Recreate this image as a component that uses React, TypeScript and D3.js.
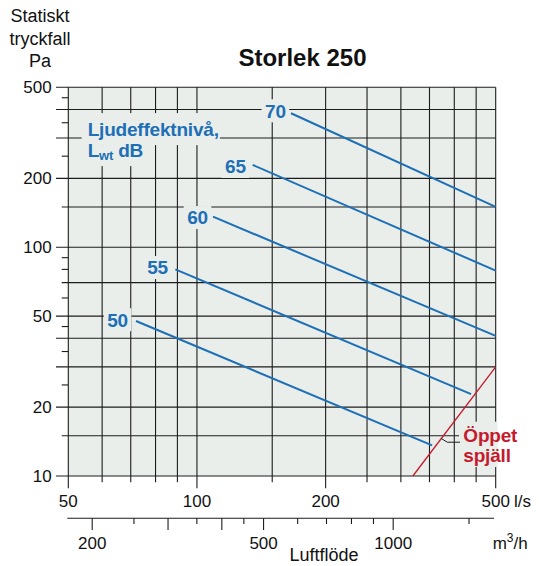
import * as d3 from "d3";

const FONT = '"Liberation Sans", Arial, Helvetica, sans-serif';
const BLUE = "#1d6fb6";
const RED = "#c41a2c";
const PLOT_BG = "#e9eeeb";
const GRID = "#1c1c1c";

// Luftflöde, l/s
const flowGrid = [50, 60, 70, 80, 90, 100, 150, 200, 250, 300, 350, 400, 450, 500];
const flowLabels = [50, 100, 200, 500];
// Luftflöde, m3/h
const m3hTicks = [200, 250, 300, 350, 400, 450, 500, 600, 700, 800, 900, 1000, 1500];
const m3hLong = [200, 300, 400, 500, 1000];
const m3hLabels = [200, 500, 1000];
// Statiskt tryckfall, Pa
const pGrid = [10, 15, 20, 30, 40, 50, 70, 100, 150, 200, 300, 400, 500];
const pShortOuter = [15, 70, 150];
const pMinor = [25, 35, 45, 60, 80, 90, 250, 350, 450];
const pLabels = [10, 20, 50, 100, 200, 500];

// Ljudeffektnivå lines (dB)
const dbLevels = ["50", "55", "60", "65", "70"];
const flowStart = [72, 89, 109, 135, 166];
const flowEnd = [355, 438, 500, 500, 500];
const pStart = [47.6, 80, 136, 229, 385];
const pEnd = [13.6, 22.8, 41, 79, 150];
const labelFlow = [65.2, 80.9, 100.3, 123, 152.6];
const labelP = [48.2, 81.5, 134.8, 225.3, 394.6];

// Öppet spjäll
const damperFlow = [320, 500];
const damperP = [10, 30];

export default function App() {
  const width = 539;
  const height = 566;
  const left = 68.3;
  const right = 495.7;
  const top = 87.3;
  const bottom = 476;

  const x = d3.scaleLog().domain([50, 500]).range([left, right]);
  const xm = d3.scaleLog().domain([176, 1730]).range([left, right]);
  const y = d3.scaleLog().domain([10, 500]).range([bottom, top]);

  const line = d3
    .line<[number, number]>()
    .x((d) => x(d[0]))
    .y((d) => y(d[1]));

  // red line: point for the leader
  const damperAt = (f: number) => {
    const t = Math.log(f / damperFlow[0]) / Math.log(damperFlow[1] / damperFlow[0]);
    return damperP[0] * Math.pow(damperP[1] / damperP[0], t);
  };
  const leadFlow = 373;
  const lx = x(leadFlow);
  const ly = y(damperAt(leadFlow));

  const legX = x(55.5);
  const legY = y(305);
  const opX = x(420);
  const opY = y(14.12);

  return (
    <svg
      width={width}
      height={height}
      style={{ position: "absolute", left: 0, top: 0, background: "#fff" }}
      fontFamily={FONT}
    >
      {/* title */}
      <text x={302.5} y={66} textAnchor="middle" fontSize={24} fontWeight="bold" fill="#111">
        Storlek 250
      </text>
      <g fontSize={18} fill="#111" textAnchor="middle">
        <text x={40} y={21.7}>Statiskt</text>
        <text x={40} y={44.5}>tryckfall</text>
        <text x={40} y={66.5}>Pa</text>
      </g>

      {/* plot background */}
      <rect x={left} y={top} width={right - left} height={bottom - top} fill={PLOT_BG} />

      {/* horizontal grid + y ticks */}
      {pGrid.map((p) => (
        <line
          key={"h" + p}
          x1={pShortOuter.includes(p) ? left - 6.6 : left - 12.3}
          x2={right}
          y1={y(p)}
          y2={y(p)}
          stroke={GRID}
          strokeWidth={1.1}
        />
      ))}
      {pMinor.map((p) => (
        <line key={"m" + p} x1={left - 6.6} x2={left} y1={y(p)} y2={y(p)} stroke={GRID} strokeWidth={1.1} />
      ))}
      {pLabels.map((p) => (
        <text key={"yl" + p} x={51.7} y={y(p) + 6} textAnchor="end" fontSize={17} fill="#111">
          {p}
        </text>
      ))}

      {/* vertical grid + x ticks */}
      {flowGrid.map((f) => (
        <line
          key={"v" + f}
          x1={x(f)}
          x2={x(f)}
          y1={top}
          y2={flowLabels.includes(f) ? bottom + 12.3 : bottom + 6.3}
          stroke={GRID}
          strokeWidth={1.1}
        />
      ))}
      {flowLabels.map((f) => (
        <text key={"xl" + f} x={x(f)} y={506.7} textAnchor="middle" fontSize={17} fill="#111">
          {f}
        </text>
      ))}
      <text x={514} y={506.7} fontSize={17} fill="#111">l/s</text>

      {/* m3/h axis */}
      <line x1={67.3} x2={494} y1={518.3} y2={518.3} stroke={GRID} strokeWidth={1.1} />
      {m3hTicks.map((v) => (
        <line
          key={"t" + v}
          x1={xm(v)}
          x2={xm(v)}
          y1={518.3}
          y2={m3hLong.includes(v) ? 530 : 524}
          stroke={GRID}
          strokeWidth={1.1}
        />
      ))}
      {m3hLabels.map((v) => (
        <text key={"ml" + v} x={xm(v)} y={549} textAnchor="middle" fontSize={17} fill="#111">
          {v}
        </text>
      ))}
      <text x={492.7} y={549} fontSize={17} fill="#111">
        m<tspan fontSize={12} dy={-7}>3</tspan>
        <tspan dy={7}>/h</tspan>
      </text>
      <text x={324} y={560.7} textAnchor="middle" fontSize={18} fill="#111">
        Luftflöde
      </text>

      {/* label backgrounds */}
      <g fill={PLOT_BG}>
        <rect x={legX - 6} y={legY - 23.3} width={138.3} height={32} />
        <rect x={legX - 6} y={legY + 8.7} width={61.3} height={21} />
        {dbLevels.map((d, i) => (
          <rect key={"lb" + d} x={x(labelFlow[i]) - 13.8} y={y(labelP[i]) - 11.5} width={27.6} height={23} />
        ))}
        <rect x={opX - 4.3} y={opY - 20} width={38.5} height={45.3} />
      </g>

      {/* dB lines */}
      {dbLevels.map((d, i) => (
        <path
          key={"l" + d}
          d={line([
            [flowStart[i], pStart[i]],
            [flowEnd[i], pEnd[i]],
          ]) ?? ""}
          fill="none"
          stroke={BLUE}
          strokeWidth={2}
        />
      ))}

      {/* open damper line */}
      <path
        d={line([
          [damperFlow[0], damperP[0]],
          [damperFlow[1], damperP[1]],
        ]) ?? ""}
        fill="none"
        stroke={RED}
        strokeWidth={1.3}
      />
      <polyline
        points={`${lx},${ly} ${lx + 6},${ly + 3.7} ${opX - 3.3},${ly + 3.7}`}
        fill="none"
        stroke={GRID}
        strokeWidth={1}
      />

      {/* labels */}
      <g fontSize={19} fontWeight="bold" fill={BLUE} letterSpacing={-0.2}>
        {dbLevels.map((d, i) => (
          <text key={"t" + d} x={x(labelFlow[i])} y={y(labelP[i]) + 6.8} textAnchor="middle">
            {d}
          </text>
        ))}
        <text x={legX} y={legY}>Ljudeffektnivå,</text>
        <text x={legX} y={legY + 21}>
          L<tspan fontSize={13} dy={3}>wt</tspan>
          <tspan dy={-3}> dB</tspan>
        </text>
      </g>
      <g fontSize={19} fontWeight="bold" fill={RED} letterSpacing={-0.2}>
        <text x={opX} y={opY}>Öppet</text>
        <text x={opX} y={opY + 20}>spjäll</text>
      </g>
    </svg>
  );
}
